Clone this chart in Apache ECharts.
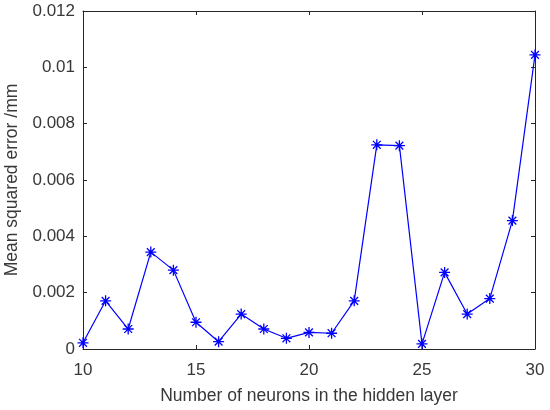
<!DOCTYPE html>
<html>
<head>
<meta charset="utf-8">
<script src="https://cdn.jsdelivr.net/npm/echarts@6/dist/echarts.min.js"></script>
<style>
  html, body { margin: 0; padding: 0; background: #fff; }
  #chart { width: 550px; height: 410px; }
</style>
</head>
<body>
<div id="chart"></div>
<script>
// neurons in the hidden layer
const neurons = [10, 11, 12, 13, 14, 15, 16, 17, 18, 19, 20, 21, 22, 23, 24, 25, 26, 27, 28, 29, 30]
// mean squared error /mm
const mse = [0.00022, 0.00171, 0.00071, 0.00344, 0.0028, 0.00095, 0.00026, 0.00124, 0.00071, 0.00038,
  0.00059, 0.00056, 0.00171, 0.00725, 0.00722, 0.00018, 0.00272, 0.00124, 0.00179, 0.00456, 0.01044]

const xTicks = {min: 10, max: 30, interval: 5}
const yTicks = {min: 0, max: 0.012, interval: 0.002}

const axisColor = '#262626'
const textColor = '#383838'
const font = 'Liberation Sans, Arial, sans-serif'

// matlab style asterisk
const star = 'path://M0,-5L0,5M-5,0L5,0M-3.54,-3.54L3.54,3.54M-3.54,3.54L3.54,-3.54'

const chart = echarts.init(document.getElementById('chart'))

const frameAxis = function (pos, extra) {
  return Object.assign({
    type: 'value',
    position: pos,
    axisLine: {show: true, onZero: false, lineStyle: {color: axisColor, width: 1}},
    axisTick: {show: true, inside: true, length: 4, lineStyle: {color: axisColor}},
    axisLabel: {show: false},
    splitLine: {show: false}
  }, extra)
}

const option = {
  animation: false,
  grid: {left: 83, right: 15, top: 11, bottom: 61, outerBoundsMode: 'none', containLabel: false},
  xAxis: [
    frameAxis('bottom', {
      min: xTicks.min, max: xTicks.max, interval: xTicks.interval,
      axisLabel: {show: true, color: textColor, fontSize: 17, fontFamily: font, margin: 13},
      name: 'Number of neurons in the hidden layer',
      nameLocation: 'middle',
      nameGap: 38,
      nameTextStyle: {color: textColor, fontSize: 17.5, fontFamily: font}
    }),
    frameAxis('top', {min: xTicks.min, max: xTicks.max, interval: xTicks.interval})
  ],
  yAxis: [
    frameAxis('left', {
      min: yTicks.min, max: yTicks.max, interval: yTicks.interval,
      axisLabel: {show: true, color: textColor, fontSize: 17, fontFamily: font, margin: 8, padding: [4, 0, 0, 0]},
      name: 'Mean squared error /mm',
      nameLocation: 'middle',
      nameGap: 54,
      nameTextStyle: {color: textColor, fontSize: 17.5, fontFamily: font}
    }),
    frameAxis('right', {min: yTicks.min, max: yTicks.max, interval: yTicks.interval})
  ],
  series: [
    {
      type: 'line',
      data: neurons.map((n, i) => [n, mse[i]]),
      lineStyle: {color: '#0000ff', width: 1.2},
      symbol: star,
      symbolSize: 11,
      showAllSymbol: true,
      itemStyle: {color: 'none', borderColor: '#0000ff', borderWidth: 1.3}
    }
  ]
}
chart.setOption(option)
</script>
</body>
</html>
